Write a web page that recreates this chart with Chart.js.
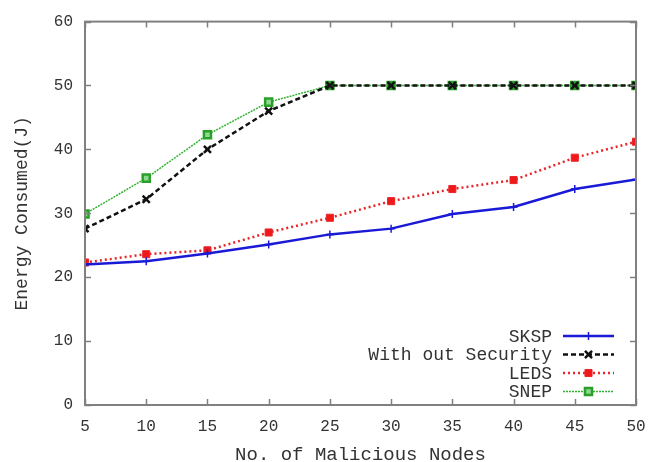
<!DOCTYPE html>
<html>
<head>
<meta charset="utf-8">
<script src="https://cdn.jsdelivr.net/npm/chart.js@4.4.1/dist/chart.umd.min.js"></script>
<style>
  html, body { margin: 0; padding: 0; background: #fff; }
  #wrap { width: 667px; height: 462px; }
</style>
</head>
<body>
<div id="wrap"><canvas id="line-chart"></canvas></div>
<script>
// values
var nodes = [5, 10, 15, 20, 25, 30, 35, 40, 45, 50];
var sksp = [22.0, 22.5, 23.7, 25.1, 26.7, 27.6, 29.9, 31.0, 33.8, 35.3];
var noSecurity = [27.6, 32.2, 40.0, 46.0, 50.0, 50.0, 50.0, 50.0, 50.0, 50.0];
var leds = [22.3, 23.6, 24.2, 27.0, 29.3, 31.9, 33.8, 35.2, 38.7, 41.2];
var snep = [29.9, 35.5, 42.3, 47.4, 50.0, 50.0, 50.0, 50.0, 50.0, 50.0];

var xTicks = [5, 10, 15, 20, 25, 30, 35, 40, 45, 50];
var yTicks = [0, 10, 20, 30, 40, 50, 60];

var FONT = "'Liberation Mono', 'DejaVu Sans Mono', monospace";
var AXIS = "#808080";

function pts(ys) {
  return nodes.map(function (x, i) { return { x: x, y: ys[i] }; });
}

// inward ticks on all four sides plus a full frame
var framePlugin = {
  id: 'frame',
  afterDatasetsDraw: function (chart) {
    var c = chart.ctx, a = chart.chartArea;
    var xs = chart.scales.x, ys = chart.scales.y;
    c.save();
    c.strokeStyle = AXIS;
    c.lineWidth = 2;
    c.strokeRect(a.left, a.top, a.right - a.left, a.bottom - a.top);
    c.lineWidth = 1.5;
    c.beginPath();
    xTicks.forEach(function (v) {
      var px = Math.round(xs.getPixelForValue(v)) + 0.5;
      c.moveTo(px, a.bottom); c.lineTo(px, a.bottom - 6);
      c.moveTo(px, a.top); c.lineTo(px, a.top + 6);
    });
    yTicks.forEach(function (v) {
      var py = Math.round(ys.getPixelForValue(v)) + 0.5;
      c.moveTo(a.left, py); c.lineTo(a.left + 6, py);
      c.moveTo(a.right, py); c.lineTo(a.right - 6, py);
    });
    c.stroke();
    c.restore();
  }
};

// gnuplot-style key: label right-aligned, sample line to its right
var keyPlugin = {
  id: 'key',
  afterDraw: function (chart) {
    var c = chart.ctx, a = chart.chartArea;
    var textRight = a.right - 84;
    var x0 = a.right - 73, x1 = a.right - 22;
    var rowH = 18.5;
    var y0 = a.bottom - 69;
    c.save();
    c.font = "18px " + FONT;
    c.textAlign = 'right';
    c.textBaseline = 'middle';
    chart.data.datasets.forEach(function (ds, i) {
      var y = y0 + i * rowH;
      c.fillStyle = '#333';
      c.fillText(ds.label, textRight, y + 1);
      c.strokeStyle = ds.borderColor;
      c.lineWidth = ds.borderWidth;
      c.setLineDash(ds.borderDash || []);
      c.beginPath(); c.moveTo(x0, y); c.lineTo(x1, y); c.stroke();
      c.setLineDash([]);
      var mx = (x0 + x1) / 2;
      c.fillStyle = ds.pointBackgroundColor;
      c.strokeStyle = ds.pointBorderColor;
      c.lineWidth = ds.pointBorderWidth || 1.5;
      Chart.helpers.drawPoint(c, {
        pointStyle: ds.pointStyle, radius: ds.pointRadius, rotation: 0,
        borderWidth: ds.pointBorderWidth || 1.5
      }, mx, y);
    });
    c.restore();
  }
};

new Chart(document.getElementById("line-chart"), {
  type: 'line',
  data: {
    datasets: [{
        data: pts(sksp),
        label: "SKSP",
        borderColor: "#1a1ad6",
        borderWidth: 2.5,
        pointStyle: 'cross',
        pointRadius: 4,
        pointBorderWidth: 1.5,
        pointBorderColor: "#1a1ad6",
        pointBackgroundColor: "#1a1ad6"
      }, {
        data: pts(noSecurity),
        label: "With out Security",
        borderColor: "#111111",
        borderWidth: 2.5,
        borderDash: [5, 3],
        pointStyle: 'crossRot',
        pointRadius: 5,
        pointBorderWidth: 2.5,
        pointBorderColor: "#111111",
        pointBackgroundColor: "#111111"
      }, {
        data: pts(leds),
        label: "LEDS",
        borderColor: "#e8262a",
        borderWidth: 2.5,
        borderDash: [2, 3],
        pointStyle: 'rect',
        pointRadius: 5,
        pointBorderWidth: 1,
        pointBorderColor: "#e8262a",
        pointBackgroundColor: "#f01818"
      }, {
        data: pts(snep),
        label: "SNEP",
        borderColor: "#33b233",
        borderWidth: 1.5,
        borderDash: [2, 1],
        pointStyle: 'rect',
        pointRadius: 5,
        pointBorderWidth: 2.5,
        pointBorderColor: "#2aa02a",
        pointBackgroundColor: "#8fd88f"
      }
    ]
  },
  options: {
    responsive: true,
    maintainAspectRatio: false,
    animation: false,
    events: [],
    layout: { padding: { left: 0, top: 18, right: 31, bottom: 0 } },
    plugins: {
      legend: { display: false },
      tooltip: { enabled: false }
    },
    scales: {
      x: {
        type: 'linear',
        min: 5, max: 50,
        afterBuildTicks: function (s) { s.ticks = xTicks.map(function (v) { return { value: v }; }); },
        afterFit: function (s) { s.height = 57; },
        grid: { display: false, drawTicks: false },
        border: { display: false },
        ticks: { color: '#333', font: { family: FONT, size: 16 }, padding: 12, maxRotation: 0 },
        title: { display: true, text: 'No. of Malicious Nodes', color: '#333',
                 font: { family: FONT, size: 19 }, padding: { top: 0, bottom: -4 } }
      },
      y: {
        min: 0, max: 60,
        afterBuildTicks: function (s) { s.ticks = yTicks.map(function (v) { return { value: v }; }); },
        afterFit: function (s) { s.width = 85; },
        grid: { display: false, drawTicks: false },
        border: { display: false },
        ticks: { color: '#333', font: { family: FONT, size: 16 }, padding: 12 },
        title: { display: true, text: 'Energy Consumed(J)', color: '#333',
                 font: { family: FONT, size: 18 }, padding: { top: 11, bottom: 0 } }
      }
    }
  },
  plugins: [framePlugin, keyPlugin]
});
</script>
</body>
</html>
